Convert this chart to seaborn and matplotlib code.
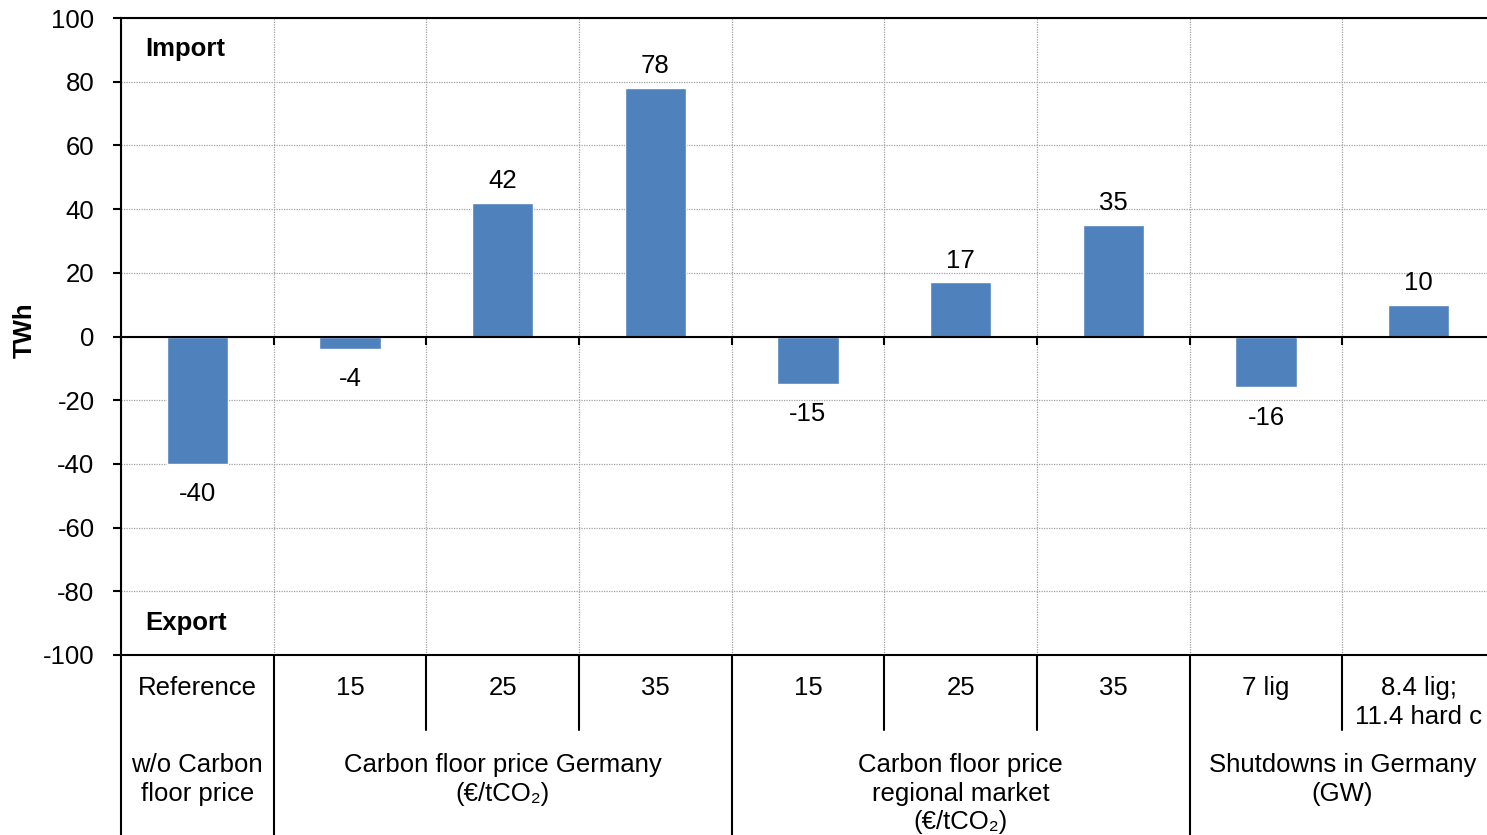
import matplotlib
matplotlib.use("Agg")
import matplotlib.pyplot as plt
import matplotlib.transforms as mtransforms
import numpy as np
import pandas as pd
import seaborn as sns

# Net electricity exchange of Germany per scenario (TWh)
scenarios = ["Reference", "15", "25", "35", "15", "25", "35", "7 lig", "8.4 lig;\n11.4 hard c"]
net_import = [-40, -4, 42, 78, -15, 17, 35, -16, 10]
group_labels = ["w/o Carbon\nfloor price",
                "Carbon floor price Germany\n(€/tCO₂)",
                "Carbon floor price\nregional market\n(€/tCO₂)",
                "Shutdowns in Germany\n(GW)"]
group_sizes = [1, 3, 3, 2]
y_ticks = list(range(-100, 101, 20))

sns.set_theme(style="white")
plt.rcParams["font.family"] = ["Liberation Sans", "DejaVu Sans"]
plt.rcParams["text.color"] = "black"
plt.rcParams["xtick.color"] = "black"
plt.rcParams["ytick.color"] = "black"
plt.rcParams["axes.labelcolor"] = "black"
FS = 18.5

df = pd.DataFrame({"pos": np.arange(len(scenarios)), "val": net_import})

fig = plt.figure(figsize=(14.87, 8.35), dpi=100)
ax = fig.add_axes([121 / 1487, 1 - 655 / 835, 1374 / 1487, 637 / 835])

sns.barplot(data=df, x="pos", y="val", color="#4F81BD", saturation=1,
            width=0.4, ax=ax, zorder=3)

n = len(scenarios)
ax.set_xlim(-0.5, n - 0.5)
ax.set_ylim(-100, 100)
ax.set_yticks(y_ticks)
ax.set_yticklabels([str(v) for v in y_ticks], fontsize=FS)
ax.set_xlabel("")
ax.set_ylabel("")

# category boundaries: ticks on the zero line and vertical grid
bounds = np.arange(n + 1) - 0.5
ax.set_xticks(bounds)
ax.set_xticklabels([""] * len(bounds))
ax.spines["bottom"].set_position(("data", 0))
ax.spines["bottom"].set_linewidth(1.5)
ax.spines["bottom"].set_zorder(4)
for s in ["left", "top", "right"]:
    ax.spines[s].set_linewidth(1.5)
    ax.spines[s].set_color("black")
ax.spines["bottom"].set_color("black")
ax.tick_params(axis="x", direction="out", length=6, width=1.5, color="black", bottom=True)
ax.tick_params(axis="y", direction="out", length=6, width=1.5, color="black", left=True, pad=13)
ax.grid(True, color="#A0A0A0", linestyle=(0, (1, 1)), linewidth=0.9, zorder=0)

# bottom frame line at -100
ax.axhline(-100, color="black", linewidth=1.5, zorder=5, clip_on=False)

# value labels: a little more room below negative bars
pos_labels = [f"{v:d}" if v >= 0 else "" for v in net_import]
neg_labels = [f"{v:d}" if v < 0 else "" for v in net_import]
for container in ax.containers:
    ax.bar_label(container, labels=pos_labels, padding=7, fontsize=FS)
    ax.bar_label(container, labels=neg_labels, padding=13, fontsize=FS)

ax.text(0.0175, 0.951, "Import", transform=ax.transAxes, fontsize=FS, fontweight="bold", va="center")
ax.text(0.0175, 0.050, "Export", transform=ax.transAxes, fontsize=FS, fontweight="bold", va="center")
fig.text(25 / 1487, 1 - 330 / 835, "TWh", rotation=90, fontsize=FS, fontweight="bold",
         ha="center", va="center")

# category table below the plot
trans = mtransforms.blended_transform_factory(ax.transData, ax.transAxes)
for i, lab in enumerate(scenarios):
    ax.text(i, -0.033, lab, transform=trans, ha="center", va="top", fontsize=FS,
            linespacing=1.24, clip_on=False)

group_starts = np.cumsum([0] + group_sizes[:-1])
group_edges = set((group_starts - 0.5).tolist())
for b in bounds[:-1]:
    y_end = -0.32 if b in group_edges else -0.1177
    ax.plot([b, b], [0, y_end], transform=trans, color="black", linewidth=1.5, clip_on=False)

for start, size, lab in zip(group_starts, group_sizes, group_labels):
    center = start + (size - 1) / 2
    ax.text(center, -0.154, lab, transform=trans, ha="center", va="top", fontsize=FS,
            linespacing=1.24, clip_on=False)

fig.savefig("out.png", dpi=100)
